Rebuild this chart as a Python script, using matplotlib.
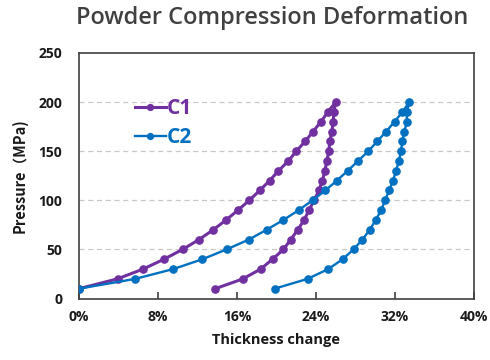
import matplotlib
matplotlib.use("Agg")
import matplotlib.pyplot as plt
from matplotlib.ticker import FuncFormatter

plt.rcParams['font.family'] = ['Open Sans', 'DejaVu Sans']

# Pressure steps (MPa): loading 10 -> 200, unloading 200 -> 10
p_load = [10, 20, 30, 40, 50, 60, 70, 80, 90, 100, 110, 120, 130, 140, 150,
          160, 170, 180, 190, 200]
p_unload = p_load[::-1][1:]

# Thickness change (%) for C1
c1_load = [0.0, 3.9, 6.5, 8.6, 10.5, 12.15, 13.6, 14.9, 16.1, 17.25, 18.3,
           19.3, 20.2, 21.2, 22.0, 22.9, 23.7, 24.5, 25.2, 26.0]
c1_unload = [25.8, 25.75, 25.6, 25.4, 25.3, 25.1, 24.9, 24.65, 24.3, 23.8,
             23.3, 22.8, 22.15, 21.45, 20.7, 19.6, 18.4, 16.6, 13.8]

# Thickness change (%) for C2
c2_load = [0.0, 5.7, 9.55, 12.5, 14.95, 17.2, 19.0, 20.7, 22.25, 23.65, 24.95,
           26.1, 27.2, 28.25, 29.3, 30.2, 31.1, 31.95, 32.75, 33.45]
c2_unload = [33.2, 33.2, 32.95, 32.75, 32.6, 32.4, 32.1, 31.8, 31.4, 31.0,
             30.6, 30.05, 29.45, 28.7, 27.8, 26.7, 25.25, 23.15, 19.8]

x_ticks = [0, 8, 16, 24, 32, 40]
y_ticks = [0, 50, 100, 150, 200, 250]

C1_COLOR = '#7030A0'
C2_COLOR = '#0070C0'

fig = plt.figure(figsize=(4.9, 3.6), dpi=100)
ax = fig.add_axes([79 / 490, 1 - 298.5 / 360, (474 - 79) / 490, (298.5 - 53) / 360])

ax.plot(c1_load + c1_unload, p_load + p_unload, color=C1_COLOR, lw=2.2,
        marker='o', ms=5.2, label='C1', zorder=3)
ax.plot(c2_load + c2_unload, p_load + p_unload, color=C2_COLOR, lw=1.7,
        marker='o', ms=5.2, label='C2', zorder=3)

ax.set_xlim(0, 40)
ax.set_ylim(0, 250)
ax.set_xticks(x_ticks)
ax.set_yticks(y_ticks)
ax.xaxis.set_major_formatter(FuncFormatter(lambda v, _: f"{v:.0f}%"))

for y in y_ticks[1:-1]:
    ax.axhline(y, color='#c8c8c8', lw=0.9, ls=(0, (4, 3)), zorder=1)

for s in ax.spines.values():
    s.set_color('#404040')
    s.set_linewidth(1.2)

ax.tick_params(axis='x', direction='in', length=5, width=1.2, color='#404040',
               labelsize=10, pad=8)
ax.tick_params(axis='y', length=0, labelsize=10, pad=12)
for lab in ax.get_xticklabels() + ax.get_yticklabels():
    lab.set_fontweight('bold')
    lab.set_color('#1a1a1a')

ax.set_xlabel('Thickness change', fontsize=10.5, fontweight='bold',
              color='#1a1a1a', labelpad=7)
ax.set_ylabel('Pressure（MPa)', fontsize=10.5, fontweight='bold',
              color='#1a1a1a', labelpad=8,
              family=['Noto Sans CJK SC', 'DejaVu Sans'])

leg = ax.legend(loc='upper left', bbox_to_anchor=(0.12, 0.85), frameon=False,
                fontsize=15, handlelength=1.5, handletextpad=0.05,
                labelspacing=0.4, borderaxespad=0)
for txt, col in zip(leg.get_texts(), [C1_COLOR, C2_COLOR]):
    txt.set_color(col)
    txt.set_fontweight('bold')
for h in leg.legend_handles:
    h.set_markersize(4.2)

fig.text(0.5 + 0.055, 1 - 18 / 360, 'Powder Compression Deformation',
         ha='center', va='center', fontsize=17, fontweight='semibold',
         color='#404040')

fig.savefig('out.png', dpi=100)
